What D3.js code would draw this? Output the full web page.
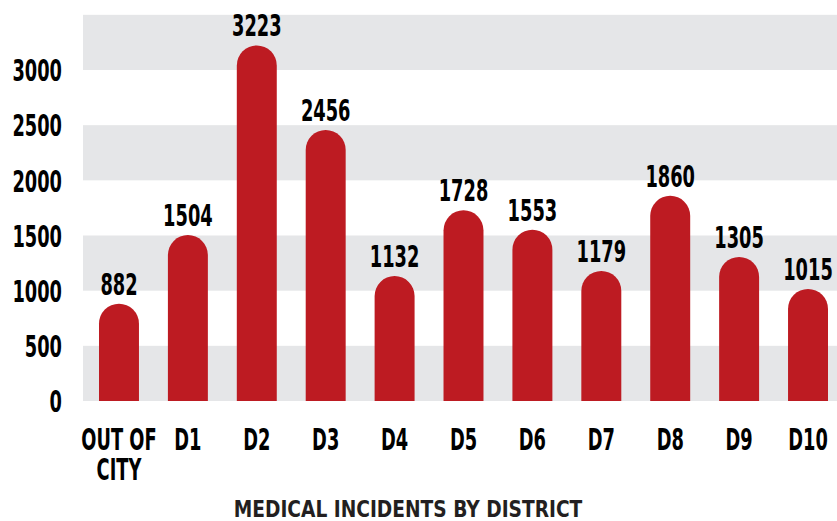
<!DOCTYPE html>
<html>
<head>
<meta charset="utf-8">
<script src="https://cdn.jsdelivr.net/npm/d3@7"></script>
<style>
  html, body { margin: 0; padding: 0; background: #fff; }
  svg { display: block; }
  .num { font-family: "DejaVu Sans Condensed", "DejaVu Sans", sans-serif; font-weight: bold; }
</style>
</head>
<body>
<svg id="chart" width="837" height="521"></svg>
<script>
const categories = ["OUT OF CITY", "D1", "D2", "D3", "D4", "D5", "D6", "D7", "D8", "D9", "D10"];
const incidents = [882, 1504, 3223, 2456, 1132, 1728, 1553, 1179, 1860, 1305, 1015];
const yTicks = [0, 500, 1000, 1500, 2000, 2500, 3000];
const bandStarts = [0, 1000, 2000, 3000];
const bandSize = 500;
const chartTitle = "MEDICAL INCIDENTS BY DISTRICT";

const svg = d3.select("#chart");
const W = 837, H = 521;
const barColor = "#BD1B22";
const bandColor = "#E5E6E8";
const squeeze = 0.66;

const x = d3.scaleBand().domain(categories).range([99, 828]).paddingInner(0.42).paddingOuter(0);
const y = d3.scaleLinear().domain([0, 3000]).range([401, 70]);

// background bands
svg.append("g").selectAll("rect").data(bandStarts).join("rect")
  .attr("x", 83).attr("width", W - 83)
  .attr("y", d => y(d + bandSize)).attr("height", d => y(d) - y(d + bandSize))
  .attr("fill", bandColor);

// bars with rounded tops
const bw = x.bandwidth(), r = bw / 2;
svg.append("g").selectAll("path").data(incidents).join("path")
  .attr("fill", barColor)
  .attr("d", (d, i) => {
    const x0 = x(categories[i]), top = y(d), base = y(0);
    return `M${x0},${base} L${x0},${top + r} A${r},${r} 0 0 1 ${x0 + bw},${top + r} L${x0 + bw},${base} Z`;
  });

// value labels
svg.append("g").selectAll("text").data(incidents).join("text")
  .attr("class", "num")
  .attr("transform", (d, i) => `translate(${x(categories[i]) + bw / 2},${y(d) - 9}) scale(${squeeze},1)`)
  .attr("text-anchor", "middle")
  .attr("font-size", 30)
  .attr("fill", "#000")
  .text(d => d);

// y axis
const yAxis = svg.append("g").attr("transform", "translate(62,0)")
  .call(d3.axisLeft(y).tickValues(yTicks).tickSize(0).tickPadding(0).tickFormat(d3.format("d")));
yAxis.select(".domain").remove();
yAxis.selectAll("text")
  .attr("class", "num")
  .attr("font-size", 30)
  .attr("fill", "#000")
  .attr("dy", "0.36em")
  .attr("transform", `scale(${squeeze},1)`);

// x axis
const xAxis = svg.append("g").attr("transform", `translate(0,${y(0)})`)
  .call(d3.axisBottom(x).tickSize(0).tickPadding(0));
xAxis.select(".domain").remove();
xAxis.selectAll("text").each(function(d) {
  const t = d3.select(this);
  t.text(null).attr("class", "num").attr("font-size", 30).attr("fill", "#000")
    .attr("y", 0).attr("dy", null)
    .attr("transform", `scale(${squeeze},1)`);
  const words = d.split(" ");
  const lines = words.length > 2 ? [words.slice(0, -1).join(" "), words[words.length - 1]] : [d];
  lines.forEach((ln, k) => {
    t.append("tspan").attr("x", 0).attr("y", 49 + k * 30).text(ln);
  });
});

// title
svg.append("text")
  .attr("transform", "translate(408,517) scale(0.9,1)")
  .attr("text-anchor", "middle")
  .attr("font-family", "'DejaVu Sans Condensed', 'DejaVu Sans', sans-serif")
  .attr("font-weight", "bold")
  .attr("font-size", 23)
  .attr("fill", "#231F20")
  .text(chartTitle);
</script>
</body>
</html>
